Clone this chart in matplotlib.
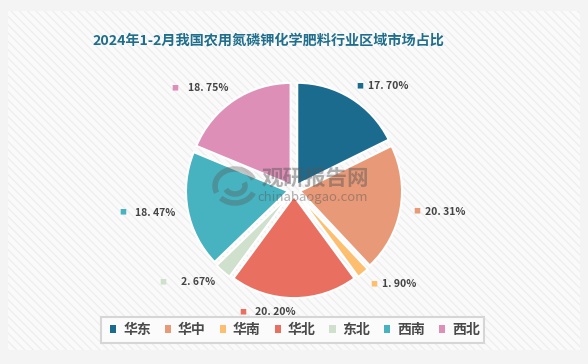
import numpy as np
import matplotlib
matplotlib.use('Agg')
import matplotlib.pyplot as plt
from matplotlib.patches import Rectangle, Patch, Arc

plt.rcParams['font.family'] = ['Noto Sans CJK SC', 'DejaVu Sans']
plt.rcParams['hatch.color'] = '#ededed'
plt.rcParams['hatch.linewidth'] = 0.8

regions = ['华东', '华中', '华南', '华北', '东北', '西南', '西北']
shares = [17.70, 20.31, 1.90, 20.20, 2.67, 18.47, 18.75]
colors = ['#1b6b8f', '#e89a78', '#fdbf6f', '#e97060', '#cfe0cc', '#47b3c0', '#dd8fb8']

W, H = 588, 364
fig = plt.figure(figsize=(W / 100, H / 100), dpi=100)
fig.patch.set_facecolor('#f4f4f4')

# inner panel with diagonal hatch
panel = Rectangle((8 / W, 14 / H), 572 / W, 339 / H, transform=fig.transFigure,
                  facecolor='#fafafa', edgecolor='#ededed', hatch='\\\\\\\\', linewidth=0, zorder=-10)
fig.patches.append(panel)

cx, cy, unit = 294, 190, 102
ax = fig.add_axes([0, 0, 1, 1])
ax.set_zorder(1)
ax.axis('off')
ax.patch.set_alpha(0)

wedges, _ = ax.pie(shares, colors=colors, startangle=90, counterclock=False,
                   explode=[0.06] * len(shares), radius=1.0,
                   wedgeprops=dict(edgecolor='white', linewidth=1.5))
for w in wedges:
    w.set_zorder(2)
ax.set_aspect('auto')
ax.set_xlim(-cx / unit, (W - cx) / unit)
ax.set_ylim(-(H - cy) / unit, cy / unit)

# labels: small colour square followed by value
cum = 0
for val, col in zip(shares, colors):
    mid = 90 - (cum + val / 2) / 100 * 360
    cum += val
    a = np.deg2rad(mid)
    y = 1.2 * np.sin(a)
    txt = '{:.2f}%'.format(val).replace('.', '. ')
    if np.cos(a) >= 0:
        x = 1.22 * np.cos(a)
        ax.annotate('■', (x, y), xytext=(0, 0), textcoords='offset points',
                    color=col, fontsize=5, ha='center', va='center')
        ax.annotate(txt, (x, y), xytext=(6, 0), textcoords='offset points',
                    color='#444444', fontsize=7.5, fontweight='bold', ha='left', va='center')
    else:
        x = 1.2 * np.cos(a) + 0.02
        ax.annotate(txt, (x, y), xytext=(0, 0), textcoords='offset points',
                    color='#444444', fontsize=7.5, fontweight='bold', ha='right', va='center')
        ax.annotate('■', (x, y), xytext=(-38, 0), textcoords='offset points',
                    color=col, fontsize=5, ha='center', va='center')

# watermark
wm = '#555555'
fig.text(315 / W, 1 - 178 / H, '观研报告网', fontsize=15.5, fontweight='bold',
         color=wm, alpha=0.45, ha='center', va='center', zorder=5)
fig.text(313 / W, 1 - 197 / H, 'chinabaogao.com', fontsize=9.5,
         color=wm, alpha=0.45, ha='center', va='center', zorder=5)
for w_, h_, t1, t2 in [(40, 34, 20, 200), (40, 34, 220, 340), (20, 16, 200, 20)]:
    arc = Arc((235, H - 186), w_, h_, theta1=t1, theta2=t2, transform=None,
              color=wm, alpha=0.35, linewidth=4, zorder=5)
    fig.patches.append(arc)

fig.text(268 / W, 1 - 40 / H, '2024年1-2月我国农用氮磷钾化学肥料行业区域市场占比',
         fontsize=10.2, fontweight='bold', color='#1f6e8c', ha='center', va='center')

# legend box
box = Rectangle((101 / W, 1 - 343 / H), 383 / W, 26 / H, transform=fig.transFigure,
                facecolor='#fbfbfb', edgecolor='#d6d6d6', linewidth=1.5, zorder=3)
fig.patches.append(box)
handles = [Patch(facecolor=c, edgecolor='none') for c in colors]
leg = fig.legend(handles, regions, ncol=7, loc='center', bbox_to_anchor=(295 / W, 1 - 330 / H),
                 frameon=False, fontsize=10, handlelength=0.45, handleheight=0.45,
                 handletextpad=0.5, columnspacing=1.0, borderpad=0.2)
leg.set_zorder(6)
for t in leg.get_texts():
    t.set_color('#4a4a4a')
    t.set_fontweight('bold')

fig.savefig('out.png', dpi=100, facecolor=fig.get_facecolor())
